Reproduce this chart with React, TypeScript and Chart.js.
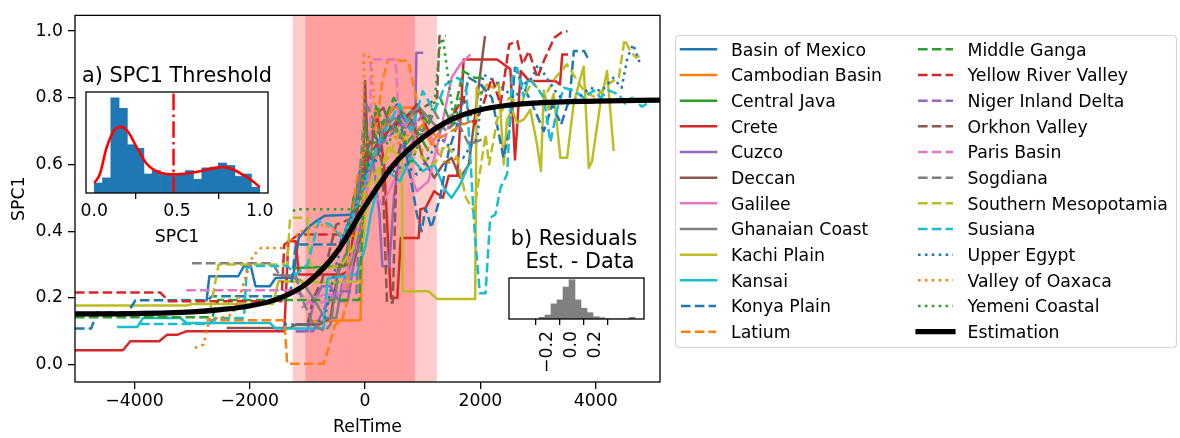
import React, { useEffect, useRef } from "react";
import { Chart, registerables } from "chart.js";
Chart.register(...registerables);

const FONT = "'DejaVu Sans', sans-serif";
const FS = 17.3;
const TFS = 20.8;

// ---------- main chart data ----------
const xTicks = [-4000, -2000, 0, 2000, 4000];
const yTicks = [0, 0.2, 0.4, 0.6, 0.8, 1.0];

const seriesNames = [
  "Basin of Mexico", "Cambodian Basin", "Central Java", "Crete", "Cuzco", "Deccan",
  "Galilee", "Ghanaian Coast", "Kachi Plain", "Kansai", "Konya Plain", "Latium",
  "Middle Ganga", "Yellow River Valley", "Niger Inland Delta", "Orkhon Valley", "Paris Basin", "Sogdiana",
  "Southern Mesopotamia", "Susiana", "Upper Egypt", "Valley of Oaxaca", "Yemeni Coastal",
];
const seriesColors = [
  "#1f77b4", "#ff7f0e", "#2ca02c", "#d62728", "#9467bd", "#8c564b", "#e377c2", "#7f7f7f", "#bcbd22", "#17becf",
  "#1f77b4", "#ff7f0e", "#2ca02c", "#d62728", "#9467bd", "#8c564b", "#e377c2", "#7f7f7f", "#bcbd22", "#17becf",
  "#1f77b4", "#ff7f0e", "#2ca02c",
];
const seriesStyles = [
  "solid", "solid", "solid", "solid", "solid", "solid", "solid", "solid", "solid", "solid",
  "dashed", "dashed", "dashed", "dashed", "dashed", "dashed", "dashed", "dashed", "dashed", "dashed",
  "dotted", "dotted", "dotted",
];

const basinOfMexico = [[-2750,0.19],[-2700,0.265],[-2200,0.265],[-2100,0.295],[-1980,0.295],[-1900,0.235],[-1650,0.235],[-1550,0.26],[-1250,0.26],[-1150,0.38],[-1000,0.41],[-850,0.43],[-700,0.446],[-170,0.45],[-120,0.56],[0,0.64],[120,0.70],[260,0.66],[400,0.75],[560,0.78],[700,0.72],[860,0.77]];
const cambodianBasin = [[-1000,0.13],[-80,0.133],[-40,0.42],[60,0.55],[180,0.62],[330,0.72],[480,0.77],[820,0.77],[900,0.70],[1000,0.72],[1150,0.66],[1300,0.70]];
const centralJava = [[-1250,0.29],[-350,0.295],[-300,0.36],[-200,0.50],[-100,0.55],[0,0.58],[100,0.61],[300,0.68],[500,0.72],[700,0.66],[900,0.70],[1100,0.64]];
const crete = [[-5030,0.043],[-4200,0.043],[-4070,0.07],[-3570,0.07],[-3430,0.09],[-3250,0.09],[-3100,0.10],[-1400,0.10],[-1330,0.37],[-1200,0.37],[-1150,0.27],[-400,0.27],[-300,0.28],[-150,0.45],[0,0.62],[100,0.68],[220,0.74],[330,0.60],[450,0.20],[560,0.20],[620,0.38],[930,0.38],[960,0.466],[1050,0.47],[1200,0.52],[1350,0.50],[1450,0.566],[1600,0.566],[1710,0.915],[2290,0.915],[2520,0.886],[2600,0.615],[2700,0.88],[2850,0.85],[3300,0.85],[3380,0.84],[3420,0.93],[3520,0.93]];
const cuzco = [[-1200,0.10],[-1000,0.10],[-900,0.18],[-750,0.235],[-600,0.235],[-450,0.19],[-300,0.19],[-200,0.30],[-100,0.55],[0,0.66],[150,0.60],[250,0.45],[300,0.295],[420,0.295],[500,0.50],[620,0.66],[780,0.62],[870,0.70],[890,0.935],[1010,0.935]];
const deccan = [[-2400,0.11],[-1300,0.11],[-1200,0.12],[-800,0.12],[-600,0.14],[-450,0.30],[-200,0.30],[-50,0.40],[0,0.85],[60,0.58],[180,0.75],[320,0.77],[460,0.70],[620,0.76],[820,0.73],[1000,0.62],[1200,0.56],[1350,0.60],[1500,0.62],[1650,0.56],[1800,0.60],[2080,0.985]];
const galilee = [[-1100,0.17],[-900,0.20],[-700,0.21],[-400,0.21],[-300,0.25],[-100,0.40],[100,0.52],[300,0.48],[500,0.55],[700,0.60],[900,0.52],[1100,0.55],[1300,0.69],[1500,0.86],[1650,0.90],[1830,0.93]];
const ghanaianCoast = [[-1600,0.27],[-1300,0.265],[-1100,0.25],[-900,0.20],[-700,0.14],[-500,0.14],[-400,0.24],[-250,0.30],[-100,0.40],[0,0.52],[150,0.62],[300,0.70],[500,0.74],[700,0.72],[900,0.78],[1100,0.74],[1300,0.70],[1500,0.75],[1700,0.72]];
const kachiPlain = [[-5030,0.177],[-3100,0.177],[-3000,0.182],[-1600,0.182],[-1500,0.25],[-600,0.246],[-100,0.25],[0,0.45],[200,0.55],[400,0.65],[640,0.62],[650,0.22],[1100,0.22],[1250,0.197],[1910,0.197],[1935,0.83],[2000,0.81],[2117,0.84],[2231,0.83],[2318,0.846],[2405,0.60],[2463,0.735],[2550,0.764],[2637,0.725],[2752,0.735],[2867,0.764],[2983,0.66],[3050,0.58],[3099,0.822],[3185,0.764],[3272,0.812],[3388,0.62],[3504,0.62],[3619,0.783],[3792,0.894],[3880,0.59],[3937,0.61],[4081,0.783],[4197,0.88],[4312,0.64]];
const kansai = [[-4300,0.113],[-3950,0.113],[-3850,0.14],[-3200,0.14],[-3100,0.125],[-1650,0.125],[-1550,0.108],[-720,0.108],[-650,0.258],[-150,0.27],[0,0.35],[100,0.45],[200,0.52],[400,0.58],[600,0.55],[800,0.62],[1000,0.58],[1200,0.60],[1400,0.52],[1500,0.50],[1650,0.54],[1800,0.60]];
const konyaPlain = [[-5030,0.108],[-4750,0.108],[-4650,0.156],[-4120,0.156],[-3980,0.193],[-2740,0.193],[-2650,0.205],[-1300,0.205],[-1200,0.36],[-450,0.36],[-300,0.42],[-100,0.50],[0,0.58],[200,0.62],[400,0.70],[600,0.74],[800,0.55],[900,0.45],[980,0.40],[1050,0.47],[1150,0.41],[1300,0.50],[1450,0.64],[1600,0.72],[1800,0.86],[2000,0.84],[2200,0.80],[2400,0.62],[2500,0.70],[2600,0.89],[2700,0.85],[2900,0.78],[3100,0.70],[3250,0.78],[3400,0.72],[3550,0.80],[3620,0.94],[3800,0.94],[3860,0.92]];
const latium = [[-2750,0.133],[-1400,0.133],[-1350,0.003],[-720,0.003],[-630,0.05],[-520,0.12],[-400,0.13],[-320,0.185],[-250,0.40],[-150,0.55],[0,0.65],[200,0.72],[300,0.85],[400,0.915],[750,0.91],[850,0.83],[950,0.75],[1100,0.70],[1300,0.68],[1500,0.70],[1700,0.72],[1850,0.73]];
const middleGanga = [[-5030,0.142],[-2650,0.142],[-2550,0.194],[-100,0.194],[-50,0.40],[0,0.55],[100,0.70],[200,0.78],[300,0.72],[500,0.80],[700,0.74],[900,0.78],[1100,0.72],[1300,0.80],[1500,0.72],[1700,0.88],[1900,0.86],[2050,0.86]];
const yellowRiverValley = [[-5030,0.216],[-3550,0.216],[-3400,0.19],[-1450,0.19],[-1400,0.36],[-1150,0.39],[-200,0.39],[-100,0.50],[0,0.60],[200,0.66],[400,0.70],[700,0.74],[900,0.78],[1100,0.70],[1300,0.72],[1500,0.74],[1700,0.80],[1900,0.72],[2050,0.78],[2200,0.86],[2350,0.78],[2500,0.96],[2640,0.97],[2730,0.90],[2840,0.94],[2990,0.86],[3100,0.91],[3280,0.98],[3400,0.995],[3510,1.0]];
const nigerInlandDelta = [[-1200,0.10],[-900,0.10],[-700,0.17],[-500,0.22],[-300,0.22],[-150,0.215],[-100,0.40],[0,0.55],[200,0.65],[400,0.68],[600,0.72],[800,0.70],[1000,0.75]];
const orkhonValley = [[-1200,0.12],[-1000,0.12],[-900,0.20],[-750,0.25],[-500,0.42],[-200,0.44],[-100,0.50],[0,0.62],[150,0.70],[300,0.60],[380,0.186],[480,0.186],[550,0.62],[700,0.70],[900,0.76],[1100,0.78],[1250,0.80],[1290,0.985],[1400,0.985]];
const parisBasin = [[-3100,0.223],[-1300,0.223],[-1100,0.21],[-900,0.18],[-700,0.19],[-400,0.22],[-200,0.35],[0,0.50],[90,0.60],[100,0.915],[530,0.915],[580,0.75],[700,0.72],[900,0.68],[1100,0.70],[1300,0.62],[1500,0.75]];
const sogdiana = [[-3000,0.304],[-1600,0.304],[-1480,0.267],[-1200,0.267],[-1100,0.20],[-900,0.12],[-700,0.10],[-600,0.12],[-450,0.28],[-300,0.35],[-100,0.55],[0,0.79],[100,0.75],[250,0.70],[400,0.74],[600,0.68],[800,0.72],[1000,0.70],[1200,0.76],[1400,0.70],[1600,0.73],[1800,0.66],[2100,0.68]];
const southernMesopotamia = [[-2690,0.16],[-2540,0.30],[-1350,0.30],[-1300,0.44],[-1000,0.44],[-950,0.30],[-800,0.28],[-400,0.30],[-200,0.35],[0,0.52],[200,0.58],[400,0.62],[600,0.70],[800,0.65],[1000,0.62],[1200,0.60],[1400,0.66],[1600,0.62],[1750,0.50],[1890,0.46],[1950,0.527],[2090,0.69],[2150,0.60],[2300,0.74],[2500,0.80],[2700,0.78],[2900,0.85],[3100,0.80],[3300,0.86],[3500,0.90],[3800,0.82],[4000,0.80],[4200,0.84],[4400,0.86],[4500,0.975],[4600,0.94],[4700,0.92],[4800,0.93]];
const susiana = [[-3900,0.122],[-2700,0.122],[-2600,0.14],[-2100,0.14],[-2050,0.29],[-1900,0.296],[-1350,0.296],[-1200,0.27],[-1000,0.30],[-800,0.43],[-600,0.42],[-400,0.38],[-200,0.45],[0,0.55],[200,0.65],[400,0.72],[600,0.78],[800,0.70],[1000,0.82],[1200,0.76],[1400,0.84],[1600,0.86],[1750,0.84],[1900,0.40],[1990,0.214],[2090,0.214],[2170,0.44],[2260,0.45],[2350,0.53],[2463,0.571],[2550,0.86],[2637,0.889],[2752,0.802],[2830,0.86],[2983,0.83],[3099,0.802],[3214,0.667],[3330,0.764],[3446,0.83],[3619,0.822],[3792,0.80],[3966,0.822],[4081,0.80],[4225,0.822],[4400,0.81],[4514,0.783],[4630,0.80],[4804,0.773],[4950,0.79]];
const upperEgypt = [[-1400,0.12],[-900,0.12],[-700,0.14],[-500,0.30],[-300,0.42],[-100,0.50],[100,0.62],[300,0.60],[500,0.58],[700,0.60],[900,0.57],[1100,0.62],[1300,0.68],[1500,0.65],[1700,0.62],[1850,0.66],[1950,0.68],[2050,0.87],[2250,0.85],[2450,0.82],[2600,0.80],[2750,0.84],[2900,0.86],[3000,0.90],[3150,0.86],[3300,0.82],[3500,0.78],[3700,0.80],[3900,0.83],[4100,0.82],[4300,0.86],[4450,0.83],[4550,0.92],[4650,0.96],[4750,0.91],[4800,0.92]];
const valleyOfOaxaca = [[-2950,0.05],[-2800,0.06],[-2700,0.137],[-2500,0.14],[-2300,0.15],[-2150,0.22],[-1950,0.325],[-1800,0.35],[-1400,0.35],[-1300,0.37],[-1100,0.40],[-700,0.42],[-300,0.38],[-50,0.40],[-20,0.93],[100,0.92],[200,0.70],[400,0.72],[600,0.66],[800,0.70],[1000,0.64],[1200,0.66],[1400,0.60],[1600,0.62]];
const yemeniCoastal = [[-1250,0.46],[-1200,0.466],[-100,0.466],[-50,0.55],[0,0.72],[100,0.62],[200,0.70],[400,0.66],[600,0.74],[800,0.60],[1000,0.70],[1200,0.78],[1300,0.96],[1350,0.98],[1450,0.85],[1550,0.72],[1650,0.80]];

const seriesData = [
  basinOfMexico, cambodianBasin, centralJava, crete, cuzco, deccan, galilee, ghanaianCoast, kachiPlain, kansai,
  konyaPlain, latium, middleGanga, yellowRiverValley, nigerInlandDelta, orkhonValley, parisBasin, sogdiana,
  southernMesopotamia, susiana, upperEgypt, valleyOfOaxaca, yemeniCoastal,
];

const estimationT = [-5030,-4000,-3000,-2500,-2000,-1500,-1000,-500,0,500,1000,1500,2000,2500,3000,4000,5115];
const estimationV = [0.152,0.153,0.158,0.165,0.176,0.198,0.245,0.335,0.475,0.60,0.68,0.735,0.764,0.778,0.785,0.79,0.793];

// shaded spans (RelTime)
const outerSpan = [-1255, 1245];
const innerSpan = [-1035, 865];

// ---------- inset a: SPC1 threshold histogram ----------
const histATicks = [0, 0.5, 1.0];
const histABinStart = 0;
const histABinWidth = 0.05;
const histADensity = [0.41,0.62,3.9,3.47,1.98,1.83,0.78,0.92,0.76,0.76,0.76,0.92,0.56,1.03,1.06,1.23,1.13,0.68,0.78,0.24];
const kdeX = [0,0.034,0.075,0.126,0.166,0.207,0.257,0.318,0.378,0.439,0.499,0.56,0.64,0.721,0.782,0.842,0.903,0.964,1.0];
const kdeY = [0.41,0.78,1.87,2.61,2.71,2.48,1.87,1.19,0.88,0.78,0.77,0.80,0.89,1.02,1.06,0.95,0.72,0.45,0.24];
const threshold = 0.479;

// ---------- inset b: residual histogram ----------
const histBTicks = [-0.2, 0, 0.2];
const histBBinStart = -0.27;
const histBBinWidth = 0.05;
const histBCounts = [1.7,4,15,19,31.7,39,19,10.7,6.3,2.3,1.3,0,0,0,0,1.6];

const DASH: Record<string, number[]> = { solid: [], dashed: [9.6, 4.2], dotted: [2.6, 4.3] };
const LW = 2.5;

const fmtNum = (v: number, d: number) => {
  const s = Math.abs(v).toFixed(d);
  return v < -1e-9 ? "\u2212" + s : s;
};

function axisCommon(tickLen: number, pad: number) {
  return {
    grid: { display: true, drawOnChartArea: false, drawTicks: true, tickLength: tickLen, color: "#000", lineWidth: 1.3 },
    border: { display: false },
    ticks: { color: "#000", font: { family: FONT, size: FS }, padding: pad, autoSkip: false },
  };
}

function frame(chart: any) {
  const { ctx, chartArea: a } = chart;
  ctx.save();
  ctx.strokeStyle = "#000";
  ctx.lineWidth = 1.3;
  ctx.setLineDash([]);
  ctx.strokeRect(a.left, a.top, a.right - a.left, a.bottom - a.top);
  ctx.restore();
}

function buildMain(canvas: HTMLCanvasElement) {
  const datasets: any[] = seriesData.map((pts, i) => ({
    label: seriesNames[i],
    data: pts.map((p) => ({ x: p[0], y: p[1] })),
    borderColor: seriesColors[i],
    borderWidth: LW,
    borderDash: DASH[seriesStyles[i]],
    borderCapStyle: "butt",
    borderJoinStyle: "round",
    pointRadius: 0,
    tension: 0,
    fill: false,
    order: 100 - i,
  }));
  datasets.push({
    label: "Estimation",
    data: estimationT.map((t, i) => ({ x: t, y: estimationV[i] })),
    borderColor: "#000",
    borderWidth: 5.2,
    pointRadius: 0,
    cubicInterpolationMode: "monotone",
    fill: false,
    order: 0,
  });

  const shade = {
    id: "shade",
    beforeDatasetsDraw(chart: any) {
      const { ctx, chartArea: a, scales } = chart;
      const x = scales.x;
      ctx.save();
      ctx.fillStyle = "#ffcccc";
      let l = x.getPixelForValue(outerSpan[0]);
      let r = x.getPixelForValue(outerSpan[1]);
      ctx.fillRect(l, a.top, r - l, a.bottom - a.top);
      ctx.fillStyle = "#ff9f9f";
      l = x.getPixelForValue(innerSpan[0]);
      r = x.getPixelForValue(innerSpan[1]);
      ctx.fillRect(l, a.top, r - l, a.bottom - a.top);
      ctx.restore();
    },
  };

  const deco = {
    id: "deco",
    afterDatasetsDraw(chart: any) {
      frame(chart);
    },
    afterDraw(chart: any) {
      const { ctx, chartArea: a } = chart;
      ctx.save();
      ctx.fillStyle = "#000";
      ctx.font = `${FS}px ${FONT}`;
      ctx.textAlign = "center";
      ctx.textBaseline = "alphabetic";
      ctx.fillText("RelTime", (a.left + a.right) / 2, 431.5);
      ctx.save();
      ctx.translate(24, (a.top + a.bottom) / 2);
      ctx.rotate(-Math.PI / 2);
      ctx.fillText("SPC1", 0, 0);
      ctx.restore();

      // legend
      const bx = 675.5, by = 35.5, bw = 501, bh = 312, rr = 4;
      ctx.beginPath();
      ctx.moveTo(bx + rr, by);
      ctx.lineTo(bx + bw - rr, by);
      ctx.quadraticCurveTo(bx + bw, by, bx + bw, by + rr);
      ctx.lineTo(bx + bw, by + bh - rr);
      ctx.quadraticCurveTo(bx + bw, by + bh, bx + bw - rr, by + bh);
      ctx.lineTo(bx + rr, by + bh);
      ctx.quadraticCurveTo(bx, by + bh, bx, by + bh - rr);
      ctx.lineTo(bx, by + rr);
      ctx.quadraticCurveTo(bx, by, bx + rr, by);
      ctx.closePath();
      ctx.fillStyle = "rgba(255,255,255,0.8)";
      ctx.fill();
      ctx.strokeStyle = "#d6d6d6";
      ctx.lineWidth = 1.2;
      ctx.stroke();

      const names = [...seriesNames, "Estimation"];
      const colors = [...seriesColors, "#000"];
      const styles = [...seriesStyles, "solid"];
      ctx.textAlign = "left";
      ctx.font = `${FS}px ${FONT}`;
      for (let i = 0; i < names.length; i++) {
        const col = i < 12 ? 0 : 1;
        const row = i % 12;
        const y = 49.3 + row * 25.67;
        const x0 = col ? 918 : 681;
        const x1 = col ? 953 : 716;
        const tx = col ? 967.5 : 731;
        const est = i === names.length - 1;
        ctx.beginPath();
        ctx.setLineDash(DASH[styles[i]]);
        ctx.lineCap = styles[i] === "solid" ? "square" : "butt";
        ctx.lineWidth = est ? 5.2 : LW;
        ctx.strokeStyle = colors[i];
        ctx.moveTo(x0, y);
        ctx.lineTo(x1, y);
        ctx.stroke();
        ctx.setLineDash([]);
        ctx.fillStyle = "#000";
        ctx.fillText(names[i], tx, y + 6.3);
      }
      ctx.restore();
    },
  };

  const xc = axisCommon(7, 2);
  const yc = axisCommon(7, 5);
  return new Chart(canvas, {
    type: "line",
    data: { datasets },
    options: {
      responsive: false,
      animation: false,
      events: [],
      layout: { padding: { left: 0, top: 2, right: 520, bottom: 0 } },
      plugins: { legend: { display: false }, tooltip: { enabled: false } },
      scales: {
        x: {
          type: "linear",
          min: -5030,
          max: 5115,
          ...xc,
          ticks: { ...xc.ticks, maxRotation: 0, callback: (v: any) => fmtNum(Number(v), 0) },
          afterBuildTicks: (s: any) => { s.ticks = xTicks.map((v) => ({ value: v })); },
          afterFit: (s: any) => { s.height = 56; },
        },
        y: {
          type: "linear",
          min: -0.052,
          max: 1.047,
          ...yc,
          ticks: { ...yc.ticks, callback: (v: any) => fmtNum(Number(v), 1) },
          afterBuildTicks: (s: any) => { s.ticks = yTicks.map((v) => ({ value: v })); },
          afterFit: (s: any) => { s.width = 75; },
        },
      },
    } as any,
    plugins: [shade, deco],
  } as any);
}

function buildInsetA(canvas: HTMLCanvasElement) {
  const bars = histADensity.map((d, i) => ({ x: histABinStart + histABinWidth * (i + 0.5), y: d }));
  const kde = kdeX.map((x, i) => ({ x, y: kdeY[i] }));
  const deco = {
    id: "decoA",
    beforeDraw(chart: any) {
      const { ctx, chartArea: a } = chart;
      ctx.save();
      ctx.fillStyle = "#fff";
      ctx.fillRect(a.left, a.top, a.right - a.left, a.bottom - a.top);
      ctx.restore();
    },
    afterDatasetsDraw(chart: any) {
      const { ctx, chartArea: a, scales } = chart;
      const x = scales.x.getPixelForValue(threshold);
      ctx.save();
      ctx.strokeStyle = "#ff0000";
      ctx.lineWidth = 2.4;
      ctx.setLineDash([16.6, 4.2, 2.6, 4.2]);
      ctx.beginPath();
      ctx.moveTo(x, a.bottom);
      ctx.lineTo(x, a.top);
      ctx.stroke();
      ctx.restore();
      frame(chart);
    },
    afterDraw(chart: any) {
      const { ctx, chartArea: a } = chart;
      ctx.save();
      ctx.fillStyle = "#000";
      ctx.textAlign = "center";
      ctx.textBaseline = "alphabetic";
      ctx.font = `${TFS}px ${FONT}`;
      ctx.fillText("a) SPC1 Threshold", (a.left + a.right) / 2, 27);
      ctx.font = `${FS}px ${FONT}`;
      ctx.fillText("SPC1", (a.left + a.right) / 2, 187);
      ctx.restore();
    },
  };
  const xc = axisCommon(6, 2);
  return new Chart(canvas, {
    type: "bar",
    data: {
      datasets: [
        { type: "line", data: kde, borderColor: "#ff0000", borderWidth: 2.6, pointRadius: 0, cubicInterpolationMode: "monotone", fill: false, order: 0 },
        { type: "bar", data: bars, backgroundColor: "#1f77b4", barPercentage: 1, categoryPercentage: 1, borderWidth: 0, order: 1 },
      ],
    },
    options: {
      responsive: false,
      animation: false,
      events: [],
      layout: { padding: { left: 26, top: 37, right: 32, bottom: 0 } },
      plugins: { legend: { display: false }, tooltip: { enabled: false } },
      scales: {
        x: {
          type: "linear",
          min: -0.05,
          max: 1.05,
          offset: false,
          ...xc,
          ticks: { ...xc.ticks, maxRotation: 0, callback: (v: any) => fmtNum(Number(v), 1) },
          afterBuildTicks: (s: any) => { s.ticks = histATicks.map((v) => ({ value: v })); },
          afterFit: (s: any) => { s.height = 57; },
        },
        y: { display: false, min: 0, max: 4.14 },
      },
    } as any,
    plugins: [deco],
  } as any);
}

function buildInsetB(canvas: HTMLCanvasElement) {
  const bars = histBCounts.map((c, i) => ({ x: histBBinStart + histBBinWidth * (i + 0.5), y: c }));
  const deco = {
    id: "decoB",
    beforeDraw(chart: any) {
      const { ctx, chartArea: a } = chart;
      ctx.save();
      ctx.fillStyle = "#fff";
      ctx.fillRect(a.left, a.top, a.right - a.left, a.bottom - a.top);
      ctx.restore();
    },
    afterDatasetsDraw(chart: any) {
      frame(chart);
    },
    afterDraw(chart: any) {
      const { ctx } = chart;
      ctx.save();
      ctx.fillStyle = "#000";
      ctx.textAlign = "center";
      ctx.textBaseline = "alphabetic";
      ctx.font = `${TFS}px ${FONT}`;
      ctx.fillText("b) Residuals", 94, 25);
      ctx.fillText("Est. - Data", 100, 47.7);
      ctx.restore();
    },
  };
  const xc = axisCommon(6, 6);
  return new Chart(canvas, {
    type: "bar",
    data: {
      datasets: [
        { type: "bar", data: bars, backgroundColor: "#808080", barPercentage: 1, categoryPercentage: 1, borderWidth: 0 },
      ],
    },
    options: {
      responsive: false,
      animation: false,
      events: [],
      layout: { padding: { left: 29, top: 58, right: 26, bottom: 0 } },
      plugins: { legend: { display: false }, tooltip: { enabled: false } },
      scales: {
        x: {
          type: "linear",
          min: -0.52,
          max: 0.605,
          offset: false,
          ...xc,
          ticks: { ...xc.ticks, minRotation: 90, maxRotation: 90, callback: (v: any) => fmtNum(Number(v), 1) },
          afterBuildTicks: (s: any) => { s.ticks = histBTicks.map((v) => ({ value: v })); },
          afterFit: (s: any) => { s.height = 71; },
        },
        y: { display: false, min: 0, max: 40.7 },
      },
    } as any,
    plugins: [deco],
  } as any);
}

export default function App() {
  const mainRef = useRef<HTMLCanvasElement>(null);
  const aRef = useRef<HTMLCanvasElement>(null);
  const bRef = useRef<HTMLCanvasElement>(null);
  useEffect(() => {
    const charts: Chart[] = [];
    if (mainRef.current) charts.push(buildMain(mainRef.current));
    if (aRef.current) charts.push(buildInsetA(aRef.current));
    if (bRef.current) charts.push(buildInsetB(bRef.current));
    return () => charts.forEach((c) => c.destroy());
  }, []);
  return (
    <div style={{ position: "absolute", left: 0, top: 0, width: 1180, height: 438, background: "#fff", overflow: "hidden" }}>
      <canvas ref={mainRef} width={1180} height={438} style={{ position: "absolute", left: 0, top: 0, width: 1180, height: 438 }} />
      <canvas ref={aRef} width={240} height={195} style={{ position: "absolute", left: 60, top: 55, width: 240, height: 195 }} />
      <canvas ref={bRef} width={190} height={170} style={{ position: "absolute", left: 480, top: 220, width: 190, height: 170 }} />
    </div>
  );
}
